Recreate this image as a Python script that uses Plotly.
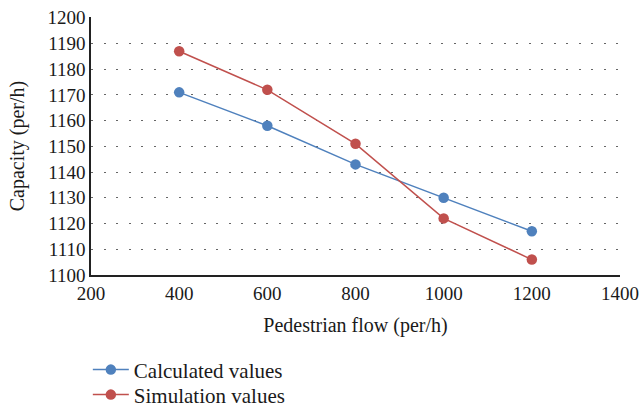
import plotly.graph_objects as go

pedestrian_flow = [400, 600, 800, 1000, 1200]
calculated_values = [1171, 1158, 1143, 1130, 1117]
simulation_values = [1187, 1172, 1151, 1122, 1106]
x_ticks = [200, 400, 600, 800, 1000, 1200, 1400]
y_ticks = list(range(1100, 1201, 10))

font_family = "Liberation Serif, DejaVu Serif, serif"

fig = go.Figure()
fig.add_trace(go.Scatter(
    x=pedestrian_flow, y=calculated_values, name="Calculated values",
    mode="lines+markers", legend="legend",
    line=dict(color="#4F81BD", width=1.5),
    marker=dict(color="#4F81BD", size=10.5),
))
fig.add_trace(go.Scatter(
    x=pedestrian_flow, y=simulation_values, name="Simulation values",
    mode="lines+markers", legend="legend2",
    line=dict(color="#C0504D", width=1.5),
    marker=dict(color="#C0504D", size=10.5),
))

legend_style = dict(
    orientation="v", x=-0.006, xanchor="left", yanchor="middle",
    font=dict(size=21), bgcolor="rgba(0,0,0,0)", itemwidth=36,
)

fig.update_layout(
    width=640, height=409,
    margin=dict(l=91, r=20, t=17, b=134, autoexpand=False),
    paper_bgcolor="white", plot_bgcolor="white",
    font=dict(family=font_family, size=20, color="#1a1a1a"),
    showlegend=True,
    legend=dict(y=-0.368, **legend_style),
    legend2=dict(y=-0.465, **legend_style),
)
fig.update_xaxes(
    range=[200, 1400], tickvals=x_ticks, ticktext=[str(v) for v in x_ticks],
    showgrid=False, zeroline=False, automargin=False,
    showline=True, linecolor="#222", linewidth=1.5,
    ticks="", ticklabeloverflow="allow",
    title=dict(text="Pedestrian flow (per/h)", standoff=15, font=dict(size=20)),
    tickfont=dict(size=19),
)
fig.update_yaxes(
    range=[1100, 1200.3], tickvals=y_ticks, ticktext=[str(v) for v in y_ticks],
    showgrid=True, gridcolor="#666", gridwidth=1, griddash="2px,10.5px",
    zeroline=False, showline=True, linecolor="#222", linewidth=1.5,
    automargin=False, ticklabeloverflow="allow",
    ticks="", title=dict(text="Capacity (per/h)", standoff=17, font=dict(size=20)),
    tickfont=dict(size=19),
)

fig.write_html(
    "out.html",
    config={"displayModeBar": False},
    post_script="document.body.style.margin='0';document.body.style.overflow='hidden';",
)
